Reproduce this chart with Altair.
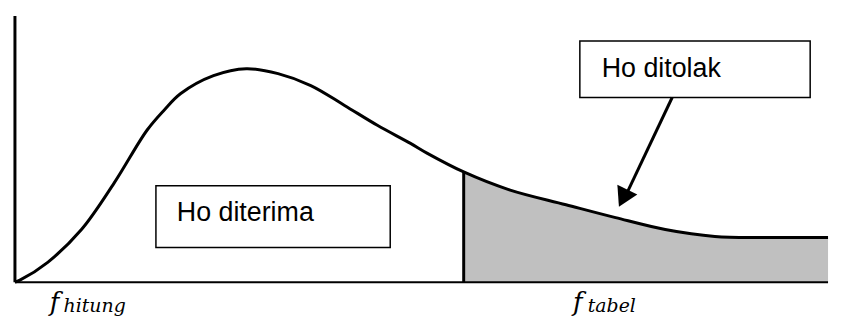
import altair as alt
import pandas as pd

# ---- data (x: F value units, y: density units) ----
curve_x = [0.0, 0.05, 0.33, 0.67, 1.00, 1.33, 1.50, 1.67, 2.00, 2.33, 2.65, 2.98, 3.32,
           3.65, 3.98, 4.15, 4.52, 4.98, 5.55, 6.05, 6.55, 7.05, 7.55, 8.19]
curve_y = [0.0, 0.002, 0.020, 0.053, 0.100, 0.153, 0.173, 0.190, 0.208, 0.215, 0.210,
           0.198, 0.178, 0.158, 0.140, 0.130, 0.111, 0.093, 0.078, 0.065, 0.053, 0.046,
           0.045, 0.045]
crit_x = 4.52
x_max = 8.19
axis_top = 0.268

box_labels = ["Ho diterima", "Ho ditolak"]
box_x = [1.42, 5.69]
box_x2 = [3.78, 8.01]
box_y = [0.097, 0.243]
box_y2 = [0.035, 0.186]
label_x = [1.63, 5.91]
label_y = [0.070, 0.215]

arrow_x = [6.62]
arrow_y = [0.186]
arrow_x2 = [6.17]
arrow_y2 = [0.091]
head_x = [6.126]
head_y = [0.0846]
head_angle = [26]

f_labels = ["f", "f"]
f_x = [0.35, 5.62]
f_y = [-0.029, -0.029]
sub_labels = ["hitung", "tabel"]
sub_x = [0.49, 5.77]
sub_y = [-0.030, -0.030]

# ---- tables ----
curve = pd.DataFrame({"x": curve_x, "y": curve_y})
shade = curve[curve["x"] >= crit_x]
crit = pd.DataFrame({"x": [crit_x], "y": [0.0],
                     "y2": [curve_y[curve_x.index(crit_x)]]})
vaxis = pd.DataFrame({"x": [0.0], "y": [0.0], "y2": [axis_top]})
haxis = pd.DataFrame({"x": [0.0], "x2": [x_max], "y": [0.0]})
boxes = pd.DataFrame({"label": box_labels, "x": box_x, "x2": box_x2, "y": box_y,
                      "y2": box_y2, "lx": label_x, "ly": label_y})
arrow = pd.DataFrame({"x": arrow_x, "y": arrow_y, "x2": arrow_x2, "y2": arrow_y2})
head = pd.DataFrame({"x": head_x, "y": head_y, "a": head_angle})
flab = pd.DataFrame({"t": f_labels, "x": f_x, "y": f_y})
slab = pd.DataFrame({"t": sub_labels, "x": sub_x, "y": sub_y})

xs = alt.Scale(domain=[-0.07, x_max], nice=False, zero=False)
ys = alt.Scale(domain=[-0.039, 0.275], nice=False, zero=False)
X = lambda f="x": alt.X(f"{f}:Q", scale=xs, axis=None)
Y = lambda f="y": alt.Y(f"{f}:Q", scale=ys, axis=None)

area = alt.Chart(shade).mark_area(color="#c0c0c0", interpolate="catmull-rom").encode(
    x=X(), y=Y(), y2=alt.Y2(datum=0))
line = alt.Chart(curve).mark_line(color="black", strokeWidth=3,
                                  interpolate="catmull-rom").encode(x=X(), y=Y())
crit_rule = alt.Chart(crit).mark_rule(color="black", strokeWidth=3).encode(
    x=X(), y=Y(), y2="y2:Q")
v_rule = alt.Chart(vaxis).mark_rule(color="black", strokeWidth=3).encode(
    x=X(), y=Y(), y2="y2:Q")
h_rule = alt.Chart(haxis).mark_rule(color="black", strokeWidth=2).encode(
    x=X(), x2="x2:Q", y=Y())
rects = alt.Chart(boxes).mark_rect(fill="white", stroke="black", strokeWidth=1.5).encode(
    x=X(), x2="x2:Q", y=Y(), y2="y2:Q")
texts = alt.Chart(boxes).mark_text(align="left", baseline="middle", fontSize=27,
                                   font="Liberation Sans, Arial",
                                   color="black").encode(
    x=X("lx"), y=Y("ly"), text="label:N")
arr = alt.Chart(arrow).mark_rule(color="black", strokeWidth=3).encode(
    x=X(), y=Y(), x2="x2:Q", y2="y2:Q")
arrhead = alt.Chart(head).mark_point(shape="triangle-down", filled=True, size=500,
                                     color="black", opacity=1).encode(
    x=X(), y=Y(), angle=alt.Angle("a:Q", scale=None))
ftext = alt.Chart(flab).mark_text(align="left", baseline="alphabetic", fontSize=26,
                                  fontStyle="italic", font="DejaVu Serif",
                                  color="black").encode(
    x=X(), y=Y(), text="t:N")
stext = alt.Chart(slab).mark_text(align="left", baseline="alphabetic", fontSize=19,
                                  fontStyle="italic", font="DejaVu Serif",
                                  color="black").encode(
    x=X(), y=Y(), text="t:N")

chart = alt.layer(area, line, crit_rule, v_rule, h_rule, rects, texts, arr, arrhead,
                  ftext, stext).properties(
    width=826, height=314, padding=0, background="white"
).configure_view(stroke=None)

chart.save("out.html", embed_options={"renderer": "svg", "actions": False})
